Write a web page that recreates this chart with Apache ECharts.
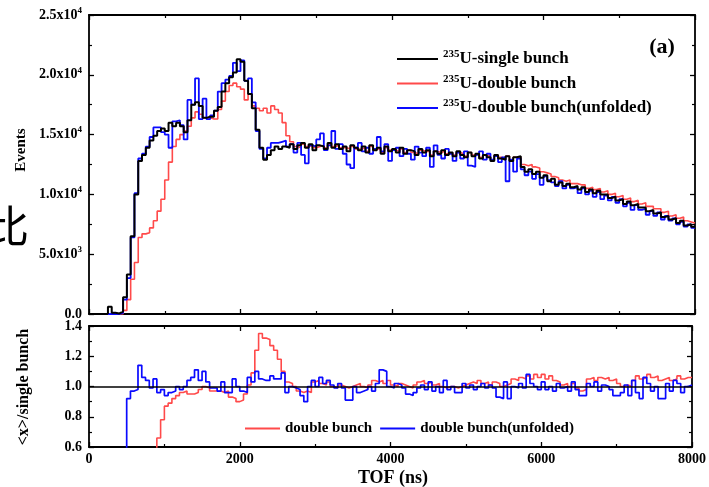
<!DOCTYPE html>
<html><head><meta charset="utf-8">
<script src="https://cdn.jsdelivr.net/npm/echarts@6/dist/echarts.min.js"></script>
<style>html,body{margin:0;padding:0;background:#fff}#c{width:709px;height:487px}</style>
</head><body><div id="c"></div>
<script>
// ---- data (TOF histograms, 50 ns bins) ----
const binStart = 250;
const binWidth = 50;
const single = [
600,100,50,200,1400,3300,6500,10000,12800,13300,
13900,14500,14900,15300,15500,15300,16000,15700,16000,15700,
15200,16200,17500,17700,17400,16400,16500,16500,17000,17300,
18600,19300,19800,20200,21300,21100,19500,18400,17200,15400,
13900,12900,13300,13700,14000,13800,14000,13900,14200,13800,
14100,14300,13900,14200,13700,14100,14000,13800,14300,13900,
14200,13800,14000,13600,14100,13900,13700,14000,13500,14100,
13700,13900,13400,14000,13600,13800,13500,13900,13400,13700,
13600,13300,13800,13500,13700,13200,13600,13400,13700,13300,
13500,13200,13600,13300,13100,13500,13200,13400,13000,13300,
13100,12800,13300,13000,12900,13200,12800,13100,13200,12300,
11900,12100,11700,11900,11400,11600,11100,11300,10800,11000,
10700,10900,10600,10700,10400,10600,10200,10400,10100,10300,
10000,10000,9700,9800,9500,9600,9200,9400,9100,9200,
8900,8900,8600,8700,8400,8500,8100,8200,7900,8000,
7600,7800,7400,7500,7300];
const double = [
0,0,0,0,300,1200,2900,4300,6400,6700,
6800,7200,7800,8600,9600,11200,12700,14000,14600,15000,
15300,15700,16400,16900,16700,16400,16400,16300,16300,17100,
17800,18600,19100,19300,19000,18800,17900,18400,17400,17200,
17000,17200,16800,17400,17100,16800,16000,14900,14400,14000,
13900,14200,14000,14100,13900,14000,14100,13900,14200,14000,
14100,13900,13900,13800,14000,13800,13800,13900,13600,14000,
13800,13800,13500,13900,13700,13700,13600,13800,13500,13700,
13500,13400,13700,13600,13600,13300,13600,13500,13600,13400,
13500,13300,13500,13400,13200,13500,13300,13400,13100,13300,
13200,12900,13300,13100,13000,13200,12900,13100,13100,12500,
12400,12500,12300,12200,11900,11800,11700,11500,11400,11200,
11100,11200,10900,10900,10800,10800,10500,10600,10400,10500,
10200,10300,10000,10100,9800,9900,9600,9700,9400,9500,
9200,9300,9000,9000,8800,8800,8500,8600,8200,8300,
8000,8100,7800,7700,7600];
const unfolded = [
0,0,0,100,1200,3000,6400,10100,13000,13400,
14000,14800,15600,15600,15200,15000,13900,16100,16200,15800,
14600,17900,17500,19700,16300,18000,16300,16600,17000,18600,
19300,19600,19900,21000,20300,21200,19500,19700,17700,15300,
13800,13000,13900,14300,14300,14400,14500,14000,14200,13500,
14300,13300,12600,14100,14000,14600,15100,13700,14100,15300,
13800,14200,13400,12500,12200,13900,14300,13600,13900,13400,
13800,14800,13600,14200,12800,13700,13900,13200,13800,13400,
12900,14000,13500,13200,13900,12300,14100,13300,13000,13800,
13400,12800,13500,13000,13600,12400,12300,13300,13600,12900,
13400,12900,13200,12700,13100,11100,12900,11900,13000,12100,
11600,11900,11300,11700,10800,11500,11200,11000,10700,11100,
10500,10800,10500,10600,10100,10500,10000,10300,9800,10200,
9600,9900,9500,9800,9300,9600,9000,9300,8700,9100,
8700,8800,8300,8600,8200,8500,7900,8200,7800,8000,
7500,7700,7300,7500,7200];
// ---- ratios <x>/single bunch ----
const ratioStart = 450;
const ratioDouble = [
0.1,0.1,0.2,0.3,0.4,0.45,0.5,0.5,0.55,0.66,
0.78,0.87,0.89,0.92,0.94,0.96,0.97,0.95,0.95,0.96,
0.98,1.00,0.99,0.97,0.97,0.97,0.96,0.97,0.93,0.92,
0.90,0.91,0.95,1.01,1.09,1.24,1.35,1.32,1.31,1.27,
1.24,1.18,1.10,1.03,1.02,1.00,0.97,0.96,0.97,0.96,
1.03,1.04,1.02,1.01,1.03,1.00,0.99,1.01,1.00,0.99,
1.00,1.01,1.02,1.00,0.99,1.01,1.04,1.03,1.04,1.02,
1.04,1.01,1.00,1.02,1.01,1.00,0.99,1.01,1.03,1.04,
1.02,1.03,1.01,1.02,1.00,0.99,1.00,1.00,0.99,1.00,
1.01,1.02,1.03,1.02,1.04,1.02,1.03,1.01,1.03,1.02,
1.00,1.01,1.02,1.05,1.04,1.06,1.05,1.07,1.05,1.08,
1.06,1.08,1.05,1.07,1.04,1.03,1.01,1.02,1.00,1.02,
0.99,0.97,0.98,1.05,1.06,1.04,1.06,1.05,1.06,1.04,
1.05,1.02,1.00,1.01,1.00,1.04,1.07,1.05,1.06,1.08,
1.06,1.07,1.04,1.05,1.06,1.04,1.05,1.07,1.05,1.06,
1.06];
const ratioUnfolded = [
0.3,0.92,0.97,0.98,1.14,1.06,1.04,0.99,1.05,0.96,
0.98,0.94,0.96,0.97,1.00,0.98,1.00,1.04,1.06,1.11,
1.04,1.10,1.03,0.99,0.99,0.97,1.03,0.96,0.96,1.05,
1.00,0.97,0.96,1.06,1.03,1.10,1.05,1.04,1.04,1.07,
1.05,1.05,1.09,0.96,1.00,0.99,0.98,0.94,0.90,1.00,
1.04,1.00,1.06,1.02,1.04,1.01,0.99,1.02,0.99,0.91,
0.91,1.00,0.96,0.97,0.98,1.00,0.97,1.02,1.11,1.10,
1.00,0.99,1.02,1.01,0.99,0.95,0.94,0.96,0.99,1.01,
0.98,1.03,0.97,1.00,0.96,1.04,0.98,1.00,0.96,0.96,
1.02,0.99,1.01,0.98,1.00,1.02,0.99,1.01,0.99,0.93,
0.92,1.03,0.92,1.00,0.99,1.02,0.99,1.08,1.02,1.00,
0.98,1.03,0.98,1.00,0.97,1.02,0.99,1.00,0.97,1.03,
0.98,0.94,0.94,1.02,1.00,1.03,0.97,1.01,1.00,0.98,
0.94,0.94,0.96,1.01,0.94,1.04,0.96,0.92,1.06,1.02,
0.97,1.00,0.92,0.92,1.02,0.97,1.04,1.02,0.96,1.00,
1.01];
// ---- tick labels ----
const topYTicks = [0, 5000, 10000, 15000, 20000, 25000];
const topYMant = ['0.0', '5.0', '1.0', '1.5', '2.0', '2.5'];
const topYExp = ['', '3', '4', '4', '4', '4'];
const seriesNames = ['235U-single bunch', '235U-double bunch', '235U-double bunch(unfolded)'];
const ratioNames = ['double bunch', 'double bunch(unfolded)'];

function hist(vals, start, lead) {
  const d = [];
  if (lead) d.push([start, 0]);
  vals.forEach((v, i) => d.push([start + i * binWidth, v]));
  d.push([start + vals.length * binWidth, vals[vals.length - 1]]);
  return d;
}

const FONT = '"Liberation Serif", "Times New Roman", serif';
const BLACK = '#000000', RED = '#ff4a4a', BLUE = '#0a0aff';

function xAx(gridIndex, position, showLabel) {
  return {
    type: 'value', gridIndex, position, min: 0, max: 8000, interval: 2000,
    axisLine: {show: true, onZero: false, lineStyle: {color: '#000', width: 1.8}},
    axisTick: {show: true, inside: true, length: 5, lineStyle: {color: '#000', width: 1.3}},
    minorTick: {show: true, splitNumber: 2, length: 3, lineStyle: {color: '#000', width: 1.2}},
    splitLine: {show: false}, minorSplitLine: {show: false},
    axisLabel: {show: showLabel, color: '#000', fontFamily: FONT, fontWeight: 'bold', fontSize: 14, margin: 5,
      formatter: v => String(v)}
  };
}
function yAx(gridIndex, position, min, max, interval, label) {
  return {
    type: 'value', gridIndex, position, min, max, interval,
    axisLine: {show: true, onZero: false, lineStyle: {color: '#000', width: 1.8}},
    axisTick: {show: true, inside: true, length: 5, lineStyle: {color: '#000', width: 1.3}},
    minorTick: {show: true, splitNumber: 2, length: 3, lineStyle: {color: '#000', width: 1.2}},
    splitLine: {show: false}, minorSplitLine: {show: false},
    axisLabel: label ? Object.assign({show: true, color: '#000', fontFamily: FONT, fontWeight: 'bold', fontSize: 14, margin: 7}, label) : {show: false}
  };
}

const richLab = {
  m: {fontFamily: FONT, fontWeight: 'bold', fontSize: 14, color: '#000'},
  s: {fontFamily: FONT, fontWeight: 'bold', fontSize: 9, color: '#000', padding: [0, 0, 9, 0]}
};

const chart = echarts.init(document.getElementById('c'), null, {renderer: 'canvas'});
chart.setOption({
  animation: false,
  backgroundColor: '#fff',
  grid: [
    {left: 89, top: 15, width: 606, height: 299},
    {left: 89, top: 326, width: 606, height: 121}
  ],
  xAxis: [xAx(0, 'bottom', false), xAx(0, 'top', false), xAx(1, 'bottom', true), xAx(1, 'top', false)],
  yAxis: [
    yAx(0, 'left', 0, 25000, 5000, {
      formatter: function (v) {
        const i = topYTicks.indexOf(v);
        if (i < 0) return '';
        if (!topYExp[i]) return '{m|' + topYMant[i] + '}';
        return '{m|' + topYMant[i] + 'x10}{s|' + topYExp[i] + '}';
      },
      rich: richLab
    }),
    yAx(0, 'right', 0, 25000, 5000, null),
    yAx(1, 'left', 0.6, 1.4, 0.2, {formatter: v => v.toFixed(1)}),
    yAx(1, 'right', 0.6, 1.4, 0.2, null)
  ],
  legend: [
    {
      data: seriesNames, orient: 'vertical', left: 392, top: 44, itemWidth: 41, itemHeight: 2, itemGap: 6,
      icon: 'rect', selectedMode: false,
      formatter: n => '{s|' + n.slice(0, 3) + '}{m|' + n.slice(3) + '}',
      textStyle: {
        rich: {
          m: {fontFamily: FONT, fontWeight: 'bold', fontSize: 17, color: '#000'},
          s: {fontFamily: FONT, fontWeight: 'bold', fontSize: 11, color: '#000', padding: [0, 0, 9, 0]}
        }
      }
    },
    {
      data: ratioNames, orient: 'horizontal', left: 240, top: 416, itemWidth: 35, itemHeight: 2, itemGap: 8,
      icon: 'rect', selectedMode: false,
      textStyle: {fontFamily: FONT, fontWeight: 'bold', fontSize: 15, color: '#000'}
    }
  ],
  series: [
    {name: seriesNames[1], type: 'line', xAxisIndex: 0, yAxisIndex: 0, step: 'end', symbol: 'none',
     data: hist(double, binStart, true), lineStyle: {color: RED, width: 1.6}, itemStyle: {color: RED}},
    {name: seriesNames[2], type: 'line', xAxisIndex: 0, yAxisIndex: 0, step: 'end', symbol: 'none',
     data: hist(unfolded, binStart, true), lineStyle: {color: BLUE, width: 1.8}, itemStyle: {color: BLUE}},
    {name: seriesNames[0], type: 'line', xAxisIndex: 0, yAxisIndex: 0, step: 'end', symbol: 'none',
     data: hist(single, binStart, true), lineStyle: {color: BLACK, width: 2}, itemStyle: {color: BLACK}},
    {name: ratioNames[0], type: 'line', xAxisIndex: 2, yAxisIndex: 2, step: 'end', symbol: 'none',
     data: hist(ratioDouble, ratioStart, false), lineStyle: {color: RED, width: 1.6}, itemStyle: {color: RED},
     markLine: {silent: true, symbol: 'none', label: {show: false}, lineStyle: {color: '#000', width: 1.5, type: 'solid'},
       data: [{yAxis: 1.0}]}},
    {name: ratioNames[1], type: 'line', xAxisIndex: 2, yAxisIndex: 2, step: 'end', symbol: 'none',
     data: hist(ratioUnfolded, ratioStart, false), lineStyle: {color: BLUE, width: 1.7}, itemStyle: {color: BLUE}}
  ],
  graphic: [
    {type: 'text', x: 662, y: 47, style: {text: '(a)', font: 'bold 22px ' + FONT, fill: '#000', align: 'center', verticalAlign: 'middle'}},
    {type: 'text', x: 21, y: 150, rotation: Math.PI / 2, style: {text: 'Events', font: 'bold 15px ' + FONT, fill: '#000', align: 'center', verticalAlign: 'middle'}},
    {type: 'text', x: 24, y: 387, rotation: Math.PI / 2, style: {text: '<x>/single bunch', font: 'bold 16px ' + FONT, fill: '#000', align: 'center', verticalAlign: 'middle'}},
    {type: 'text', x: 393, y: 478, style: {text: 'TOF (ns)', font: 'bold 18px ' + FONT, fill: '#000', align: 'center', verticalAlign: 'middle'}},
    {type: 'text', x: -15, y: 226, style: {text: '比', font: '44px "Noto Sans CJK SC"', fill: '#000', align: 'left', verticalAlign: 'middle'}}
  ]
});
</script>
</body></html>
